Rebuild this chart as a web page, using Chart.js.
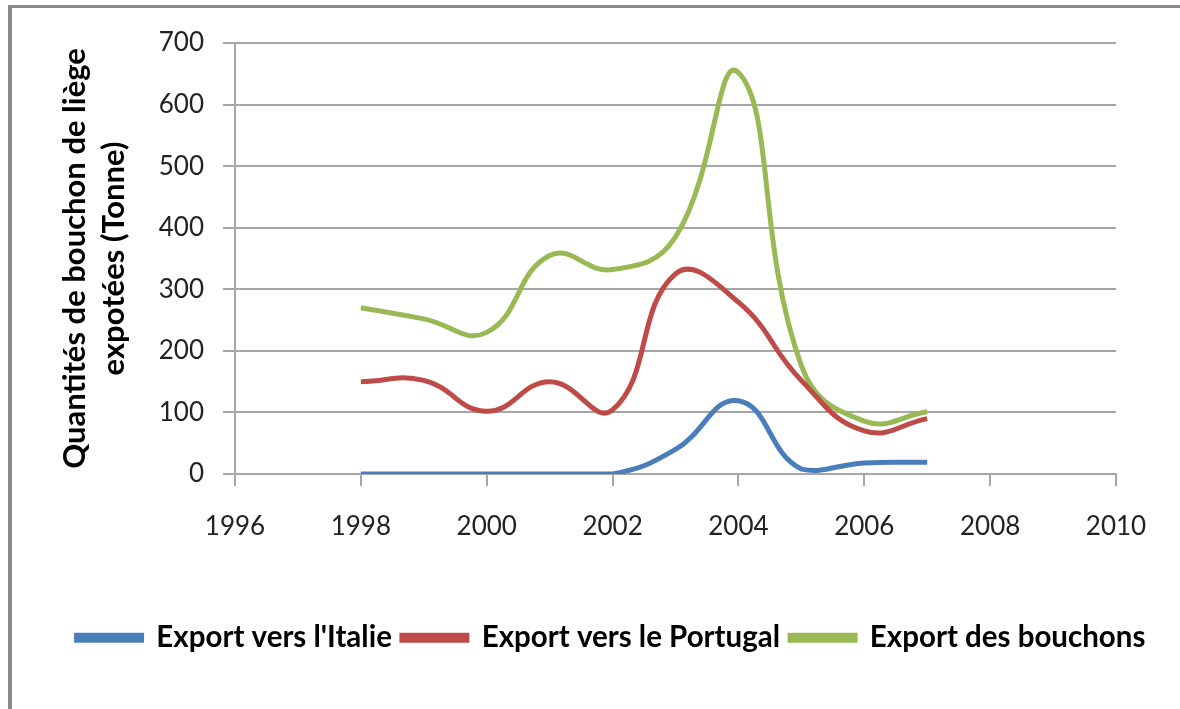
<!DOCTYPE html>
<html>
<head>
<meta charset="utf-8">
<script src="https://cdn.jsdelivr.net/npm/chart.js@4"></script>
<style>
  html, body { margin: 0; padding: 0; background: #fff; }
  #frame { position: absolute; left: 8px; top: 5px; width: 1172px; height: 704px;
           border-left: 4px solid #8a8a8a; border-top: 3px solid #8a8a8a; }
  #wrap { position: absolute; left: 0; top: 0; width: 1180px; height: 709px; }
</style>
</head>
<body>
<div id="frame"></div>
<div id="wrap"><canvas id="chart" width="1180" height="709"></canvas></div>
<script>
const years = [1998, 1999, 2000, 2001, 2002, 2003, 2004, 2005, 2006, 2007];
const exportItalie = [0, 0, 0, 0, 0, 40, 119, 8, 18, 19];
const exportPortugal = [150, 152, 102, 150, 104, 325, 279, 152, 70, 90];
const exportBouchons = [270, 252, 230, 355, 332, 385, 652, 176, 86, 101];
const seriesNames = ["Export vers l'Italie", "Export vers le Portugal", "Export des bouchons"];
const yTitle = ["Quantités de bouchon de liège", "expotées (Tonne)"];

const gridGray = '#a6a6a6';

function toPoints(values) {
    return years.map((y, i) => ({ x: y, y: values[i] }));
}

function makeSet(label, values, color) {
    return {
        label: label,
        data: toPoints(values),
        borderColor: color,
        backgroundColor: color,
        borderWidth: 5,
        pointRadius: 0,
        tension: 0.45,
        fill: false
    };
}

// legend sits a little right of the plot centre in the original
const legendShift = {
    id: 'legendShift',
    afterLayout(chart) {
        chart.legend.left += 53;
        chart.legend.right += 53;
    }
};

const ctx = document.getElementById('chart').getContext('2d');
new Chart(ctx, {
    type: 'line',
    data: {
        datasets: [
            makeSet(seriesNames[0], exportItalie, '#4a7ebb'),
            makeSet(seriesNames[1], exportPortugal, '#be4b48'),
            makeSet(seriesNames[2], exportBouchons, '#98b954')
        ]
    },
    plugins: [legendShift],
    options: {
        responsive: false,
        animation: false,
        layout: { padding: { left: 0, top: 43, right: 64, bottom: 46.5 } },
        plugins: {
            tooltip: { enabled: false },
            legend: {
                position: 'bottom',
                labels: {
                    boxWidth: 65,
                    boxHeight: 5,
                    padding: 10,
                    color: '#000',
                    font: { family: 'Lato', size: 29.5, weight: 'bold' }
                }
            }
        },
        scales: {
            x: {
                type: 'linear',
                min: 1996,
                max: 2010,
                afterFit: s => { s.height = 139; },
                ticks: {
                    stepSize: 2,
                    padding: 25,
                    color: '#222',
                    font: { family: 'Lato', size: 26 },
                    callback: v => String(v)
                },
                grid: { drawOnChartArea: false, drawTicks: true, tickLength: 12, color: gridGray, lineWidth: 2 },
                border: { color: gridGray, width: 2 }
            },
            y: {
                min: 0,
                max: 700,
                afterFit: s => { s.width = 235; },
                ticks: {
                    stepSize: 100,
                    padding: 19,
                    color: '#222',
                    font: { family: 'Lato', size: 26 }
                },
                grid: { color: gridGray, lineWidth: 2, tickLength: 12 },
                border: { color: gridGray, width: 2 },
                title: {
                    display: true,
                    text: yTitle,
                    color: '#000',
                    font: { family: 'Lato', size: 31, weight: 'bold', lineHeight: 1.24 },
                    padding: { top: 56, bottom: 0 }
                }
            }
        }
    }
});
</script>
</body>
</html>
